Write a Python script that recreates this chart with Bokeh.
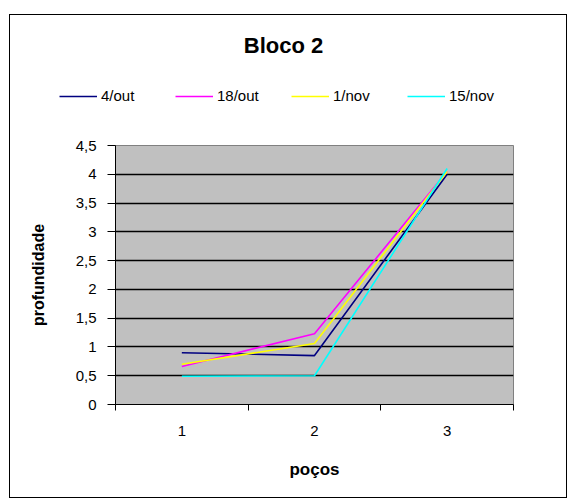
from bokeh.plotting import figure
from bokeh.layouts import column, row
from bokeh.models import Range1d, FixedTicker, Legend, LegendItem, Label
from bokeh.embed import file_html
from bokeh.resources import INLINE

# data
pocos = [1, 2, 3]
series_names = ["4/out", "18/out", "1/nov", "15/nov"]
v_4out = [0.90, 0.85, 4.00]
v_18out = [0.66, 1.23, 4.05]
v_1nov = [0.70, 1.06, 4.05]
v_15nov = [0.49, 0.50, 4.10]
colors = ["#000080", "#FF00FF", "#FFFF00", "#00FFFF"]
y_ticks = [0, 0.5, 1, 1.5, 2, 2.5, 3, 3.5, 4, 4.5]
y_tick_labels = ["0", "0,5", "1", "1,5", "2", "2,5", "3", "3,5", "4", "4,5"]
x_tick_labels = ["1", "2", "3"]
chart_title = "Bloco 2"

FONT = "Liberation Sans"
W = 556
HEAD_H = 115
MAIN_H = 482 - HEAD_H

# header figure (title + legend)
h = figure(width=W, height=HEAD_H, output_backend="svg", toolbar_location=None,
           x_range=Range1d(0, 1), y_range=Range1d(0, 1),
           min_border=0, min_border_left=0, min_border_right=0,
           min_border_top=0, min_border_bottom=0)
h.axis.visible = False
h.grid.visible = False
h.outline_line_color = None
h.background_fill_color = "white"
h.border_fill_color = "white"

items = []
for name, c in zip(series_names, colors):
    # swatch renderers only: their data lie outside the visible ranges
    r = h.line([-5, -4], [-5, -5], line_color=c, line_width=1.6)
    items.append(LegendItem(label=name, renderers=[r]))

legend = Legend(items=items, orientation="horizontal", location=(49, 26),
                glyph_width=38, glyph_height=14, label_standoff=4, label_width=72,
                spacing=2, padding=0, margin=0, border_line_color=None,
                background_fill_alpha=0, label_text_font=FONT,
                label_text_font_size="15px", label_text_color="black")
h.add_layout(legend, "center")

title = Label(x=273, y=85, x_units="screen", y_units="screen", text=chart_title,
              text_align="center", text_baseline="middle", text_font=FONT,
              text_font_style="bold", text_font_size="22px", text_color="black")
h.add_layout(title)

# main chart
p = figure(width=W, height=MAIN_H, output_backend="svg", toolbar_location=None,
           x_range=Range1d(0.5, 3.5), y_range=Range1d(0, 4.5),
           min_border_left=105, min_border_right=53, min_border_top=15,
           min_border_bottom=93)
p.background_fill_color = "#C0C0C0"
p.border_fill_color = "white"
p.outline_line_color = "#808080"
p.outline_line_width = 1

p.xgrid.visible = False
p.ygrid.ticker = FixedTicker(ticks=y_ticks)
p.ygrid.grid_line_color = "black"
p.ygrid.grid_line_width = 1.5

p.yaxis.ticker = FixedTicker(ticks=y_ticks)
p.yaxis.major_label_overrides = {t: l for t, l in zip(y_ticks, y_tick_labels)}
p.yaxis.axis_line_color = "black"
p.yaxis.major_tick_line_color = "black"
p.yaxis.major_tick_in = 0
p.yaxis.major_tick_out = 8
p.yaxis.minor_tick_line_color = None
p.yaxis.major_label_standoff = 11
p.yaxis.major_label_text_font = FONT
p.yaxis.major_label_text_font_size = "15px"
p.yaxis.major_label_text_color = "black"
p.yaxis.axis_label = "profundidade"
p.yaxis.axis_label_text_font = FONT
p.yaxis.axis_label_text_font_style = "bold"
p.yaxis.axis_label_text_font_size = "16px"
p.yaxis.axis_label_text_color = "black"
p.yaxis.axis_label_standoff = 26

p.xaxis.ticker = FixedTicker(ticks=pocos, minor_ticks=[0.5, 1.5, 2.5, 3.5])
p.xaxis.major_label_overrides = {t: l for t, l in zip(pocos, x_tick_labels)}
p.xaxis.axis_line_color = "black"
p.xaxis.major_tick_line_color = None
p.xaxis.major_tick_in = 0
p.xaxis.major_tick_out = 6
p.xaxis.minor_tick_line_color = "black"
p.xaxis.minor_tick_in = 0
p.xaxis.minor_tick_out = 6
p.xaxis.major_label_standoff = 15
p.xaxis.major_label_text_font = FONT
p.xaxis.major_label_text_font_size = "15px"
p.xaxis.major_label_text_color = "black"
p.xaxis.axis_label = "poços"
p.xaxis.axis_label_text_font = FONT
p.xaxis.axis_label_text_font_style = "bold"
p.xaxis.axis_label_text_font_size = "17px"
p.xaxis.axis_label_text_color = "black"
p.xaxis.axis_label_standoff = 21

for vals, c in zip([v_4out, v_18out, v_1nov, v_15nov], colors):
    p.line(pocos, vals, line_color=c, line_width=1.6)

layout = column(row(h), p, spacing=0)
layout.margin = (14, 0, 0, 9)
layout.styles = {"border": "1px solid black"}

open("out.html", "w").write(file_html(layout, INLINE))
